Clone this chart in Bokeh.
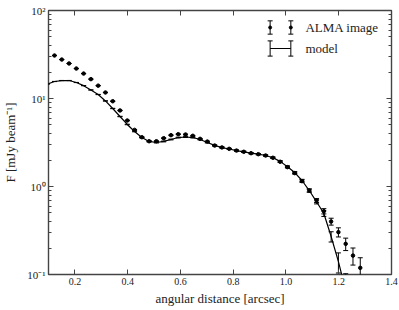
from bokeh.plotting import figure
from bokeh.models import LinearAxis, LogAxis, Range1d, FixedTicker, CustomJSTickFormatter, Label
from bokeh.embed import file_html
from bokeh.resources import INLINE

# ---------------- data ----------------
ANG = [0.1227, 0.1503, 0.1779, 0.2055, 0.2331, 0.2607, 0.2883, 0.3158, 0.3434, 0.3710,
       0.3986, 0.4262, 0.4538, 0.4814, 0.5090, 0.5366, 0.5642, 0.5918, 0.6194, 0.6469,
       0.6745, 0.7021, 0.7297, 0.7573, 0.7849, 0.8125, 0.8401, 0.8677, 0.8953, 0.9229,
       0.9505, 0.9780, 1.0056, 1.0332, 1.0608, 1.0884, 1.1160, 1.1436, 1.1712, 1.1988,
       1.2264, 1.2540, 1.2816]
ALMA_F = [30.8, 27.7, 25.0, 21.9, 19.2, 16.6, 14.0, 11.7, 9.31, 7.31,
          5.62, 4.40, 3.63, 3.27, 3.27, 3.54, 3.83, 3.93, 3.90, 3.77,
          3.48, 3.24, 2.92, 2.78, 2.68, 2.56, 2.48, 2.39, 2.33, 2.25,
          2.12, 1.91, 1.66, 1.42, 1.15, 0.90, 0.693, 0.524, 0.400, 0.303,
          0.223, 0.164, 0.119]
ALMA_ERR = [0.036] * len(ANG)

MODEL_ANG = [0.0951] + ANG
MODEL_F = [14.6, 15.6, 16.0, 16.0, 15.2, 14.0, 12.5, 11.1, 9.38, 7.70,
           6.24, 5.07, 4.22, 3.60, 3.25, 3.16, 3.25, 3.42, 3.60, 3.65,
           3.60, 3.42, 3.16, 2.93, 2.77, 2.67, 2.56, 2.48, 2.39, 2.33,
           2.25, 2.12, 1.93, 1.68, 1.44, 1.17, 0.90, 0.67, 0.493, 0.270,
           0.140, 0.066, 0.030, 0.012]
MODEL_ERR = [0.036] * len(MODEL_ANG)

X_TICKS = [0.2, 0.4, 0.6, 0.8, 1.0, 1.2, 1.4]
Y_TICKS = [0.1, 1, 10, 100]
Y_TICK_LABELS = ["10\u207b\u00b9", "10\u2070", "10\u00b9", "10\u00b2"]
Y_MINOR = [m * 10.0 ** e for e in (-1, 0, 1) for m in range(2, 10)]

LEGEND_LABELS = ["ALMA image", "model"]

SERIF = "Liberation Serif"
INK = "black"
AXC = "#444444"

p = figure(frame_width=343, frame_height=264, output_backend="svg", toolbar_location=None,
           x_range=Range1d(0.1, 1.4), y_range=Range1d(0.1, 100), y_axis_type="log",
           min_border_left=45, min_border_right=11, min_border_top=10, min_border_bottom=35)
p.grid.visible = False
p.outline_line_color = AXC
p.outline_line_width = 1.4
p.background_fill_color = "white"
p.border_fill_color = "white"

xfmt = CustomJSTickFormatter(code="return tick.toFixed(1);")
yfmt = CustomJSTickFormatter(args=dict(tv=Y_TICKS, labs=Y_TICK_LABELS), code="""
let best = 0, d = Infinity;
for (let i = 0; i < tv.length; i++) {
  const dd = Math.abs(Math.log10(tick) - Math.log10(tv[i]));
  if (dd < d) { d = dd; best = i; }
}
return labs[best];
""")

def style(ax, labels=True):
    ax.axis_line_color = None
    ax.major_tick_line_color = AXC
    ax.minor_tick_line_color = AXC
    ax.major_tick_in = 5
    ax.major_tick_out = 0
    ax.minor_tick_in = 3
    ax.minor_tick_out = 0
    ax.major_tick_line_width = 1
    ax.minor_tick_line_width = 1
    ax.major_label_text_font = SERIF
    ax.major_label_text_font_size = "10px" if labels else "0px"
    ax.major_label_text_color = "#222222"
    ax.major_label_standoff = 3 if labels else 0
    ax.axis_label_text_font = SERIF
    ax.axis_label_text_font_size = "13px"
    ax.axis_label_text_font_style = "normal"
    ax.axis_label_text_color = "#222222"
    ax.axis_label_standoff = 1

xt = FixedTicker(ticks=X_TICKS, minor_ticks=[])
yt = FixedTicker(ticks=Y_TICKS, minor_ticks=Y_MINOR)

xa = p.xaxis[0]
xa.ticker = xt
xa.formatter = xfmt
xa.axis_label = "angular distance [arcsec]"
style(xa)
xa.axis_label_standoff = 3
ya = p.yaxis[0]
ya.ticker = yt
ya.formatter = yfmt
ya.axis_label = "F [mJy beam\u207b\u00b9]"
style(ya)
ya.major_label_text_font_size = "11px"
ya.axis_label_standoff = 6

top = LinearAxis(ticker=xt, formatter=CustomJSTickFormatter(code="return '';"))
style(top, labels=False)
top.axis_label_standoff = 0
p.add_layout(top, "above")
right = LogAxis(ticker=yt, formatter=CustomJSTickFormatter(code="return '';"))
style(right, labels=False)
right.axis_label_standoff = 0
p.add_layout(right, "right")

# ---------------- data marks ----------------
def errorbars(xs, ys, es, cap=5):
    lo = [max(y - e, 1e-4) for y, e in zip(ys, es)]
    hi = [y + e for y, e in zip(ys, es)]
    p.segment(x0=xs, y0=lo, x1=xs, y1=hi, line_color=INK, line_width=1)
    p.scatter(xs, hi, marker="dash", size=cap, line_color=INK, line_width=1)
    p.scatter(xs, lo, marker="dash", size=cap, line_color=INK, line_width=1)

p.line(MODEL_ANG, MODEL_F, line_color=INK, line_width=1.2)
errorbars(MODEL_ANG, MODEL_F, MODEL_ERR)
errorbars(ANG, ALMA_F, ALMA_ERR)
p.scatter(ANG, ALMA_F, marker="circle", size=3.5, fill_color=INK, line_color=INK)

# ---------------- legend (manual, top right) ----------------
LX0, LX1 = 0.940, 1.0185      # handle x positions
LY = [64.1, 37.0]             # row centres
BAR = 1.19                     # bar half-height factor (log)
p.segment(x0=[LX0, LX1], y0=[LY[0] / BAR] * 2, x1=[LX0, LX1], y1=[LY[0] * BAR] * 2,
          line_color=INK, line_width=1)
p.scatter([LX0, LX1], [LY[0] * BAR] * 2, marker="dash", size=5, line_color=INK)
p.scatter([LX0, LX1], [LY[0] / BAR] * 2, marker="dash", size=5, line_color=INK)
p.scatter([LX0, LX1], [LY[0]] * 2, marker="circle", size=3, fill_color=INK, line_color=INK)

BAR2 = 1.22
p.line([LX0, LX1], [LY[1]] * 2, line_color=INK, line_width=1.2)
p.segment(x0=[LX0, LX1], y0=[LY[1] / BAR2] * 2, x1=[LX0, LX1], y1=[LY[1] * BAR2] * 2,
          line_color=INK, line_width=1)
p.scatter([LX0, LX1], [LY[1] * BAR2] * 2, marker="dash", size=5, line_color=INK)
p.scatter([LX0, LX1], [LY[1] / BAR2] * 2, marker="dash", size=5, line_color=INK)

for lab, yy in zip(LEGEND_LABELS, LY):
    p.add_layout(Label(x=1.074, y=yy, text=lab, text_font=SERIF, text_font_size="13px",
                       text_color="#222222", text_baseline="middle", text_align="left"))

open("out.html", "w").write(file_html(p, INLINE))
